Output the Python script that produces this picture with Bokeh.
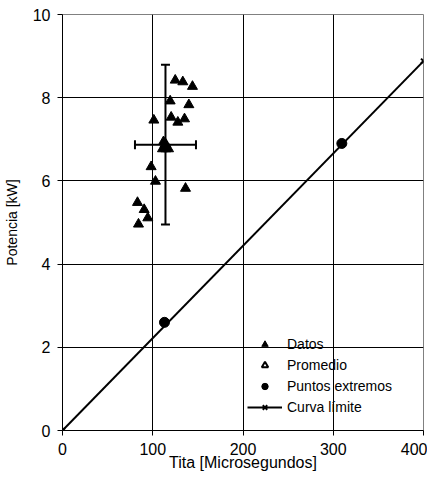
from bokeh.plotting import figure
from bokeh.models import (ColumnDataSource, Whisker, TeeHead, Legend, LegendItem,
                          FixedTicker, Range1d)
from bokeh.embed import file_html
from bokeh.resources import INLINE

# ---- data ----
tita_datos = [124.9, 133.3, 144.0, 119.3, 140.0, 101.2, 120.4, 127.8, 135.2, 98.2,
              103.0, 136.3, 83.1, 90.5, 94.5, 84.2, 111.9, 114.5, 117.5, 110.8]
pot_datos = [8.42, 8.38, 8.27, 7.92, 7.83, 7.46, 7.53, 7.41, 7.49, 6.34,
             5.99, 5.82, 5.48, 5.31, 5.11, 4.96, 6.94, 6.77, 6.77, 6.77]

tita_prom = [114.1]
pot_prom = [6.87]
err_tita = [33.8]
err_pot = [1.92]

tita_ext = [113.0, 309.5]
pot_ext = [2.6, 6.9]

tita_curva = [0, 400]
pot_curva = [0, 8.88]

x_ticks = [0, 100, 200, 300, 400]
y_ticks = [0, 2, 4, 6, 8, 10]

FONT = "Liberation Sans"

p = figure(width=425, height=474, output_backend="svg", toolbar_location=None,
           x_range=Range1d(0, 400), y_range=Range1d(0, 10),
           min_border_left=60, min_border_right=4, min_border_top=14, min_border_bottom=44)
p.frame_width = 361
p.frame_height = 416

p.background_fill_color = "white"
p.border_fill_color = "white"
p.outline_line_color = "#808080"
p.outline_line_width = 1

for ax in (p.xaxis[0], p.yaxis[0]):
    ax.axis_line_color = "black"
    ax.major_tick_line_color = "black"
    ax.major_tick_in = 0
    ax.major_tick_out = 5
    ax.minor_tick_line_color = None
    ax.major_label_text_font = FONT
    ax.major_label_text_font_size = "16px"
    ax.major_label_text_color = "black"
    ax.axis_label_text_font = FONT
    ax.axis_label_text_font_style = "normal"
    ax.axis_label_text_color = "black"

p.xaxis.ticker = FixedTicker(ticks=x_ticks)
p.yaxis.ticker = FixedTicker(ticks=y_ticks)
p.xaxis.axis_label = "Tita [Microsegundos]"
p.yaxis.axis_label = "Potencia [kW]"
p.xaxis.axis_label_text_font_size = "16px"
p.yaxis.axis_label_text_font_size = "14px"
p.xaxis.major_label_standoff = 7
p.xaxis.axis_label_standoff = -4
p.yaxis.major_label_standoff = 7
p.yaxis.axis_label_standoff = 10

p.xgrid.grid_line_color = "black"
p.ygrid.grid_line_color = "black"
p.xgrid.grid_line_width = 1
p.ygrid.grid_line_width = 1

# curva limite
r_line = p.line(tita_curva, pot_curva, line_color="black", line_width=2)
r_line_m = p.scatter(tita_curva, pot_curva, marker="x", size=7, line_color="black", line_width=2)

# datos
r_datos = p.scatter(tita_datos, pot_datos, marker="triangle", size=10,
                    fill_color="black", line_color="black")

# promedio with error bars
src_prom = ColumnDataSource(dict(
    x=tita_prom, y=pot_prom,
    xl=[a - b for a, b in zip(tita_prom, err_tita)],
    xu=[a + b for a, b in zip(tita_prom, err_tita)],
    yl=[a - b for a, b in zip(pot_prom, err_pot)],
    yu=[a + b for a, b in zip(pot_prom, err_pot)],
))
wv = Whisker(source=src_prom, base="x", lower="yl", upper="yu", dimension="height",
             line_color="black", line_width=2,
             upper_head=TeeHead(size=9, line_color="black", line_width=2),
             lower_head=TeeHead(size=9, line_color="black", line_width=2))
wh = Whisker(source=src_prom, base="y", lower="xl", upper="xu", dimension="width",
             line_color="black", line_width=2,
             upper_head=TeeHead(size=9, line_color="black", line_width=2),
             lower_head=TeeHead(size=9, line_color="black", line_width=2))
p.add_layout(wv)
p.add_layout(wh)
r_prom = p.scatter("x", "y", source=src_prom, marker="triangle", size=10,
                   fill_alpha=0, line_color="black", line_width=2)

# puntos extremos
r_ext = p.scatter(tita_ext, pot_ext, marker="circle", size=10,
                  fill_color="black", line_color="black")

legend = Legend(items=[
    LegendItem(label="Datos", renderers=[r_datos]),
    LegendItem(label="Promedio", renderers=[r_prom]),
    LegendItem(label="Puntos extremos", renderers=[r_ext]),
    LegendItem(label="Curva límite", renderers=[r_line, r_line_m]),
], location=(185, 15))
legend.background_fill_alpha = 0
legend.border_line_color = None
legend.padding = 0
legend.margin = 0
legend.spacing = 5
legend.glyph_width = 35
legend.glyph_height = 16
legend.label_height = 16
legend.label_standoff = 5
legend.label_text_font = FONT
legend.label_text_font_size = "14px"
legend.label_text_color = "black"
p.add_layout(legend, "center")

open("out.html", "w").write(file_html(p, INLINE))
